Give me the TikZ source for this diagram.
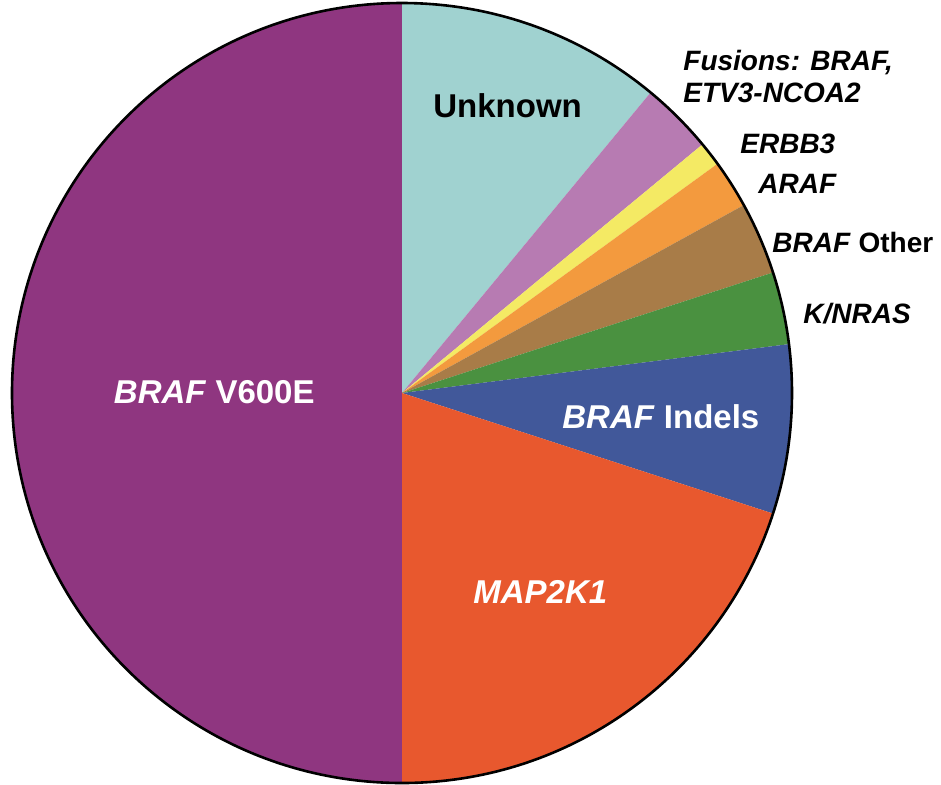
\documentclass[tikz,border=0pt]{standalone}
\usepackage{fontspec}
\setmainfont{Liberation Sans}
\definecolor{vsix}{HTML}{8F3680}
\definecolor{unk}{HTML}{A0D2D0}
\definecolor{fus}{HTML}{B77BB2}
\definecolor{erbb}{HTML}{F4EA64}
\definecolor{araf}{HTML}{F39A3E}
\definecolor{other}{HTML}{A87C48}
\definecolor{ras}{HTML}{4A9140}
\definecolor{indel}{HTML}{41589A}
\definecolor{mek}{HTML}{E8582E}
\begin{document}
\begin{tikzpicture}[x=0.5pt, y=0.5pt,
  big/.style={inner sep=0, anchor=base west, font=\fontsize{16.5}{20}\selectfont\bfseries},
  small/.style={inner sep=0, anchor=base west, font=\fontsize{14}{16}\selectfont\bfseries}]
\useasboundingbox (-402,-391) rectangle (539,393);
\fill[white] (-402,-391) rectangle (539,393);

\fill[vsix] (0,0) -- (90:390) arc[start angle=90, end angle=270, radius=390] -- cycle;
\fill[unk] (0,0) -- (90:390) arc[start angle=90, end angle=50.4, radius=390] -- cycle;
\fill[fus] (0,0) -- (50.4:390) arc[start angle=50.4, end angle=39.6, radius=390] -- cycle;
\fill[erbb] (0,0) -- (39.6:390) arc[start angle=39.6, end angle=36, radius=390] -- cycle;
\fill[araf] (0,0) -- (36:390) arc[start angle=36, end angle=28.8, radius=390] -- cycle;
\fill[other] (0,0) -- (28.8:390) arc[start angle=28.8, end angle=18, radius=390] -- cycle;
\fill[ras] (0,0) -- (18:390) arc[start angle=18, end angle=7.2, radius=390] -- cycle;
\fill[indel] (0,0) -- (7.2:390) arc[start angle=7.2, end angle=-18, radius=390] -- cycle;
\fill[mek] (0,0) -- (-18:390) arc[start angle=-18, end angle=-90, radius=390] -- cycle;
\draw[line width=1.3pt] (0,0) circle[radius=390];

\node[big] (unknown) at (31,276) {Unknown};
\node[big, anchor=base east, white] (v600e) at (-87,-10) {\textit{BRAF} V600E};
\node[big, white] (map) at (71,-210) {\textit{MAP2K1}};
\node[big, white] (indels) at (160,-35) {\textit{BRAF} Indels};

\node[small, anchor=north west, align=left] (fusions) at (281,343) {\textit{Fusions: BRAF,}\\\textit{ETV3-NCOA2}};
\node[small] (erbb3) at (338,240) {\textit{ERBB3}};
\node[small] (araf) at (356,200) {\textit{ARAF}};
\node[small] (other) at (370,141) {\textit{BRAF} Other};
\node[small] (knras) at (401,70) {\textit{K/NRAS}};
\end{tikzpicture}
\end{document}
